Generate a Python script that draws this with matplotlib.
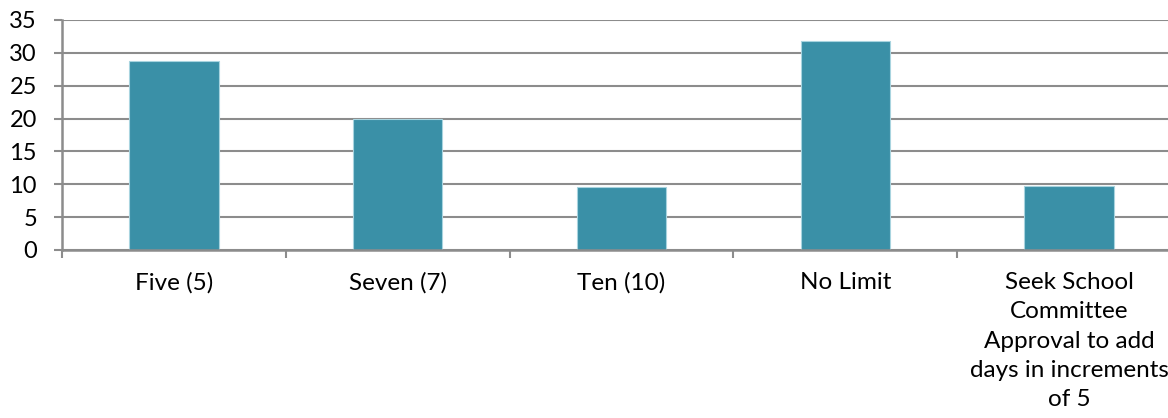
import matplotlib.pyplot as plt
import numpy as np

categories = ['Five (5)', 'Seven (7)', 'Ten (10)', 'No Limit',
              'Seek School\nCommittee\nApproval to add\ndays in increments\nof 5']
values = [28.7, 20, 9.6, 31.8, 9.8]
y_ticks = [0, 5, 10, 15, 20, 25, 30, 35]

plt.rcParams['font.family'] = ['Lato', 'DejaVu Sans']

fig = plt.figure(figsize=(11.68, 4.18), dpi=100)
ax = fig.add_axes([62 / 1168, 168 / 418, 1119 / 1168, 230 / 418])

x = np.arange(len(categories))
ax.bar(x, values, width=0.4, color='#3A90A7', edgecolor='#A8D4DF', linewidth=0.8, zorder=3)

ax.set_xlim(-0.5, len(categories) - 0.5)
ax.set_ylim(0, 35)
ax.set_yticks(y_ticks)
ax.set_yticklabels([str(v) for v in y_ticks], fontsize=17)
ax.yaxis.grid(True, color='#8C8C8C', linewidth=1.5, zorder=0)

ax.set_xticks(x)
ax.set_xticklabels(categories, fontsize=17.5, linespacing=1.48, va='top')
ax.set_xticks(np.arange(-0.5, len(categories)), minor=True)
ax.tick_params(axis='x', which='major', length=0, pad=16)
ax.tick_params(axis='x', which='minor', length=6, width=1.5, color='#8C8C8C')
ax.tick_params(axis='y', length=6, width=1.5, color='#8C8C8C', pad=12)

for side in ['top', 'right']:
    ax.spines[side].set_visible(False)
for side in ['left', 'bottom']:
    ax.spines[side].set_color('#8C8C8C')
    ax.spines[side].set_linewidth(1.8)
    ax.spines[side].set_zorder(4)

fig.savefig('out.png', dpi=100)
